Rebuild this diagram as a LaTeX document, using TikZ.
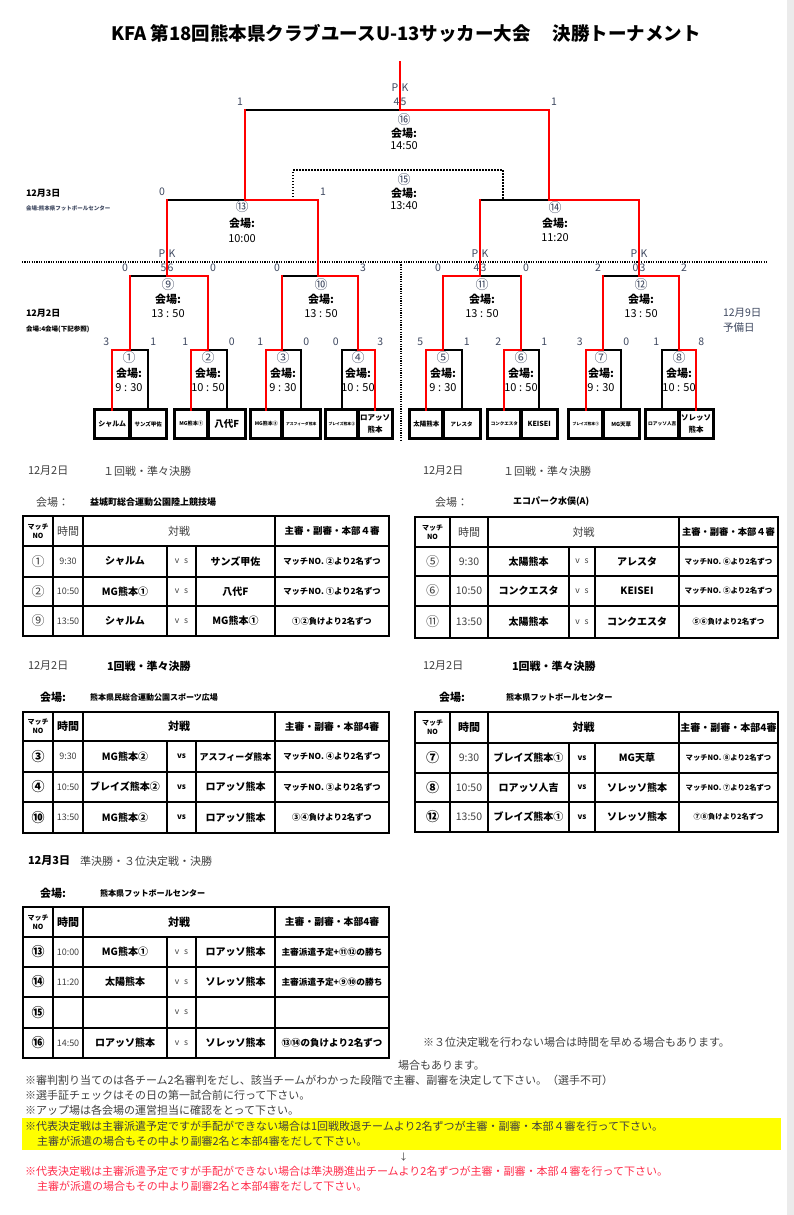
\documentclass[tikz,border=0pt]{standalone}
\usepackage{fontspec}
\setmainfont{Noto Sans CJK JP}
\usetikzlibrary{positioning}
\definecolor{scoreblue}{RGB}{62,72,96}
\definecolor{txtgray}{RGB}{64,64,64}
\definecolor{notered}{RGB}{255,45,75}
\definecolor{markyellow}{RGB}{255,255,0}

\begin{document}
\begin{tikzpicture}[x=1pt, y=-1pt,
  every node/.style={inner sep=0pt, outer sep=0pt},
  win/.style={draw=red, line width=2.2pt, line cap=rect},
  lose/.style={draw=black, line width=2.2pt, line cap=rect},
  third/.style={draw=black, line width=1.6pt, dash pattern=on 1.5pt off 1.5pt},
  divider/.style={draw=black, line width=1.2pt, dash pattern=on 1.2pt off 1.2pt},
  team/.style={draw, line width=3.4pt, minimum height=28.6pt, align=center},
  info/.style={align=center},
  score/.style={text=scoreblue, font=\fontsize{10.5}{12}\selectfont},
  side/.style={anchor=west, align=left},
  hd/.style={anchor=west, text=txtgray, font=\fontsize{11}{13}\selectfont},
  hdb/.style={anchor=west, font=\fontsize{11}{13}\selectfont\bfseries},
  venue/.style={anchor=west, font=\fontsize{#1}{10}\selectfont\bfseries},
  tbl/.style={line width=1.8pt},
  tno/.style={align=center, font=\fontsize{7}{9}\selectfont\bfseries},
  thb/.style={font=\fontsize{11}{12}\selectfont\bfseries},
  thl/.style={text=txtgray, font=\fontsize{11}{12}\selectfont},
  tref/.style={font=\fontsize{#1}{12}\selectfont\bfseries},
  cno/.style={text=txtgray, font=\fontsize{13}{14}\selectfont},
  cnob/.style={font=\fontsize{13}{14}\selectfont\bfseries},
  ctm/.style={text=txtgray, font=\fontsize{#1}{12}\selectfont},
  cteam/.style={font=\fontsize{10}{12}\selectfont\bfseries},
  cvs/.style={text=txtgray, font=\fontsize{8.5}{10}\selectfont},
  cvsb/.style={font=\fontsize{8}{10}\selectfont\bfseries},
  cref/.style={font=\fontsize{#1}{10}\selectfont\bfseries},
  note/.style={anchor=west, text=txtgray, font=\fontsize{11}{13}\selectfont}
]
\useasboundingbox (0,0) rectangle (794,1215);
\fill[white] (0,0) rectangle (794,1215);
\fill[black!8] (787,0) rectangle (794,1215);

% title
\node[font=\fontsize{18.5}{20}\selectfont\bfseries] (title) at (406,33)
  {KFA 第18回熊本県クラブユースU-13サッカー大会\hspace{1.2em}決勝トーナメント};

% match points (apex of each bracket)
\coordinate (m1) at (130,350);
\coordinate (m2) at (208,350);
\coordinate (m3) at (282,350);
\coordinate (m4) at (358,350);
\coordinate (m5) at (443,350);
\coordinate (m6) at (521,350);
\coordinate (m7) at (603,350);
\coordinate (m8) at (679,350);
\coordinate (m9) at (167,276);
\coordinate (m10) at (318,276);
\coordinate (m11) at (480,276);
\coordinate (m12) at (639,276);
\coordinate (m13) at (245,200);
\coordinate (m14) at (549,200);
\coordinate (m15) at (398,170);
\coordinate (m16) at (400,110);
\coordinate (top) at (400,62);
\coordinate (q1) at (293,200);
\coordinate (q2) at (503,200);

% day divider
\draw[divider] (22,262) -- (767,262);
\draw[divider] (401,262) -- (401,441);

% team boxes
\foreach \nm/\xa/\xb/\fs/\txt in {
  1a/94.6/130/7/シャルム, 1b/130/166.4/5.5/サンズ甲佐,
  2a/174.6/208/5.2/MG熊本①, 2b/208/245.4/9.5/八代F,
  3a/250.6/282/5/MG熊本②, 3b/282/320.4/3.8/アスフィーダ熊本,
  4a/325.6/358/3.8/ブレイズ熊本②, 4b/358/392.4/7.5/ロアッソ\\熊本,
  5a/409.6/443/6.5/太陽熊本, 5b/443/480.4/5.5/アレスタ,
  6a/487.6/521/4.5/コンクエスタ, 6b/521/557.4/7/KEISEI,
  7a/568.6/603/3.8/ブレイズ熊本①, 7b/603/639.4/5.5/MG天草,
  8a/645.6/679/4.7/ロアッソ人吉, 8b/679/713.4/7.5/ソレッソ\\熊本}
  \node[team, minimum width={\xb-\xa}, font=\fontsize{\fs}{11.5}\selectfont\bfseries]
    (c\nm) at ({(\xa+\xb)/2},424) {\txt};

% third place (dotted)
\draw[third] (q1) |- (m15) -| (q2);

% first round
\foreach \m/\wi/\lo in {1/a/b,2/a/b,3/a/b,4/b/a,5/a/b,6/a/b,7/a/b,8/b/a} {
  \draw[lose] (c\m\lo.north) |- (m\m);
  \draw[win] (c\m\wi.north) |- (m\m);
}
% later rounds
\foreach \m/\wi/\lo in {9/2/1,10/4/3,11/5/6,12/8/7,13/10/9,14/12/11,16/14/13} {
  \draw[lose] (m\lo |- m\m) -- (m\m);
  \draw[win] (m\lo) -- (m\lo |- m\m);
  \draw[win] (m\wi) |- (m\m);
}
\draw[win] (m16) -- (top);

% match info
\foreach \m/\nr/\tm/\dx/\ls in {1/①/9 : 30/-1/14.5, 2/②/10 : 50/0/14.5,
  3/③/9 : 30/1/14.5, 4/④/10 : 50/0/14.5, 5/⑤/9 : 30/0/14.5,
  6/⑥/10 : 50/0/14.5, 7/⑦/9 : 30/-2/14.5, 8/⑧/10 : 50/0/14.5,
  9/⑨/13 : 50/1/14, 10/⑩/13 : 50/3/14, 11/⑪/13 : 50/2/14,
  12/⑫/13 : 50/2/14, 13/⑬/10:00/-3/15.5, 14/⑭/11:20/6/14.5,
  15/⑮/13:40/6/12.5, 16/⑯/14:50/4/12.5}
  \node[info, xshift=\dx, yshift=-22pt, font=\fontsize{11}{\ls}\selectfont] (i\m) at (m\m)
    {{\color{scoreblue}\fontsize{13}{\ls}\selectfont\nr}\\{\bfseries 会場:}\\\tm};

% scores
\foreach \m/\sa/\sb in {1/3/1,2/1/0,3/1/0,4/0/3,5/5/1,6/2/1,7/3/0,8/1/8} {
  \path (c\m a.north |- m\m) node[score, xshift=-6pt, yshift=8pt] (sl\m) {\sa};
  \path (c\m b.north |- m\m) node[score, xshift=5pt, yshift=8pt] (sr\m) {\sb};
}
\foreach \m/\lo/\ri/\sa/\sb in {9/1/2/0/0,10/3/4/0/3,11/5/6/0/0,12/7/8/2/2,13/9/10/0/1,16/13/14/1/1} {
  \path (m\lo |- m\m) node[score, xshift=-5pt, yshift=8pt] (sl\m) {\sa};
  \path (m\ri |- m\m) node[score, xshift=5pt, yshift=8pt] (sr\m) {\sb};
}
\foreach \m/\sa/\sb in {9/5/6,11/4/3,12/0/3,16/4/5} {
  \node[score, yshift=22pt] (pk\m) at (m\m) {P\hspace{3.5pt}K};
  \node[score, xshift=-3.5pt, yshift=8pt] (pa\m) at (m\m) {\sa};
  \node[score, xshift=3.5pt, yshift=8pt] (pb\m) at (m\m) {\sb};
}

% day labels
\node[side, font=\fontsize{9}{10}\selectfont\bfseries] (day3) at (26,193) {12月3日};
\node[side, text=scoreblue, font=\fontsize{5.5}{7}\selectfont\bfseries] (day3v) at (26,208) {会場:熊本県フットボールセンター};
\node[side, font=\fontsize{9}{10}\selectfont\bfseries] (day2) at (26,313) {12月2日};
\node[side, font=\fontsize{6.5}{8}\selectfont\bfseries] (day2v) at (26,329) {会場:4会場(下記参照)};
\node[side, text=scoreblue, font=\fontsize{10.5}{15}\selectfont] (day9) at (723,320) {12月9日\\予備日};

% table 1
\node[hd] (ad) at (28,471) {12月2日};
\node[hd] (ar) at (103,471) {１回戦・準々決勝};
\node[hd] (av) at (36,502) {会場：};
\node[venue=9] (ap) at (90,502) {益城町総合運動公園陸上競技場};
\draw[tbl] (23,516) rectangle (389,636);
\foreach \yy in {546,577,606} \draw[tbl] (23,\yy) -- (389,\yy);
\foreach \xx in {53,83,275} \draw[tbl] (\xx,516) -- (\xx,636);
\foreach \xx in {167,196} \draw[tbl] (\xx,546) -- (\xx,636);
\node[tno] (ah1) at (38,531) {マッチ\\NO};
\node[thl] (ah2) at (68,531) {時間};
\node[thl] (ah3) at (179,531) {対戦};
\node[tref=9.5] (ah4) at (332,531) {主審・副審・本部４審};
\foreach \no/\tm/\ta/\tb/\rf/\yy [count=\k] in {
  ①/9:30/シャルム/サンズ甲佐/マッチNO. ②より2名ずつ/561.5,
  ②/10:50/MG熊本①/八代F/マッチNO. ①より2名ずつ/591.5,
  ⑨/13:50/シャルム/MG熊本①/①②負けより2名ずつ/621} {
  \node[cno] (an\k) at (38,\yy) {\no};
  \node[ctm=9] (at\k) at (68,\yy) {\tm};
  \node[cteam] (aa\k) at (125,\yy) {\ta};
  \node[cvs] (avs\k) at (181.5,\yy) {v\hspace{5pt}s};
  \node[cteam] (ab\k) at (235.5,\yy) {\tb};
  \node[cref=8.3] (arf\k) at (332,\yy) {\rf};
}

% table 2
\node[hd] (bd) at (423,471) {12月2日};
\node[hd] (br) at (503,471) {１回戦・準々決勝};
\node[hd] (bv) at (435,502) {会場：};
\node[venue=9] (bp) at (513,502) {エコパーク水俣(A)};
\draw[tbl] (415,517) rectangle (778,638);
\foreach \yy in {547,576,606} \draw[tbl] (415,\yy) -- (778,\yy);
\foreach \xx in {450,488,679} \draw[tbl] (\xx,517) -- (\xx,638);
\foreach \xx in {569,595} \draw[tbl] (\xx,547) -- (\xx,638);
\node[tno] (bh1) at (432.5,532) {マッチ\\NO};
\node[thl] (bh2) at (469,532) {時間};
\node[thl] (bh3) at (583.5,532) {対戦};
\node[tref=9.3] (bh4) at (728.5,532) {主審・副審・本部４審};
\foreach \no/\tm/\ta/\tb/\rf/\yy [count=\k] in {
  ⑤/9:30/太陽熊本/アレスタ/マッチNO. ⑥より2名ずつ/561.5,
  ⑥/10:50/コンクエスタ/KEISEI/マッチNO. ⑤より2名ずつ/591,
  ⑪/13:50/太陽熊本/コンクエスタ/⑤⑥負けより2名ずつ/622} {
  \node[cno] (bn\k) at (432.5,\yy) {\no};
  \node[ctm=10.5] (bt\k) at (469,\yy) {\tm};
  \node[cteam] (ba\k) at (528.5,\yy) {\ta};
  \node[cvs] (bvs\k) at (582,\yy) {v\hspace{5pt}s};
  \node[cteam] (bb\k) at (637,\yy) {\tb};
  \node[cref=7.5] (brf\k) at (728.5,\yy) {\rf};
}

% table 3
\node[hd] (cd) at (28,666) {12月2日};
\node[hdb] (cr) at (107,666) {1回戦・準々決勝};
\node[hdb] (cv) at (40,697) {会場:};
\node[venue=8] (cp) at (90,697) {熊本県民総合運動公園スポーツ広場};
\draw[tbl] (23,712) rectangle (389,833);
\foreach \yy in {741,772,802} \draw[tbl] (23,\yy) -- (389,\yy);
\foreach \xx in {53,83,275} \draw[tbl] (\xx,712) -- (\xx,833);
\foreach \xx in {167,196} \draw[tbl] (\xx,741) -- (\xx,833);
\node[tno] (ch1) at (38,726.5) {マッチ\\NO};
\node[thb] (ch2) at (68,726.5) {時間};
\node[thb] (ch3) at (179,726.5) {対戦};
\node[tref=9.8] (ch4) at (332,726.5) {主審・副審・本部4審};
\foreach \no/\tm/\ta/\tb/\rf/\yy [count=\k] in {
  ③/9:30/MG熊本②/{\fontsize{9}{10}\selectfont アスフィーダ熊本}/マッチNO. ④より2名ずつ/756.5,
  ④/10:50/ブレイズ熊本②/ロアッソ熊本/マッチNO. ③より2名ずつ/787,
  ⑩/13:50/MG熊本②/ロアッソ熊本/③④負けより2名ずつ/817.5} {
  \node[cnob] (cn\k) at (38,\yy) {\no};
  \node[ctm=9] (ct\k) at (68,\yy) {\tm};
  \node[cteam] (ca\k) at (125,\yy) {\ta};
  \node[cvsb] (cvs\k) at (181.5,\yy) {vs};
  \node[cteam] (cb\k) at (235.5,\yy) {\tb};
  \node[cref=8.3] (crf\k) at (332,\yy) {\rf};
}

% table 4
\node[hd] (dd) at (423,666) {12月2日};
\node[hdb] (dr) at (512,666) {1回戦・準々決勝};
\node[hdb] (dv) at (439,697) {会場:};
\node[venue=8.2] (dp) at (506,697) {熊本県フットボールセンター};
\draw[tbl] (415,712) rectangle (778,832);
\foreach \yy in {743,773,802} \draw[tbl] (415,\yy) -- (778,\yy);
\foreach \xx in {450,488,679} \draw[tbl] (\xx,712) -- (\xx,832);
\foreach \xx in {569,595} \draw[tbl] (\xx,743) -- (\xx,832);
\node[tno] (dh1) at (432.5,727.5) {マッチ\\NO};
\node[thb] (dh2) at (469,727.5) {時間};
\node[thb] (dh3) at (583.5,727.5) {対戦};
\node[tref=10] (dh4) at (728.5,727.5) {主審・副審・本部4審};
\foreach \no/\tm/\ta/\tb/\rf/\yy [count=\k] in {
  ⑦/9:30/ブレイズ熊本①/MG天草/マッチNO. ⑧より2名ずつ/758,
  ⑧/10:50/ロアッソ人吉/ソレッソ熊本/マッチNO. ⑦より2名ずつ/787.5,
  ⑫/13:50/ブレイズ熊本①/ソレッソ熊本/⑦⑧負けより2名ずつ/817} {
  \node[cnob] (dn\k) at (432.5,\yy) {\no};
  \node[ctm=10.5] (dt\k) at (469,\yy) {\tm};
  \node[cteam] (da\k) at (528.5,\yy) {\ta};
  \node[cvsb] (dvs\k) at (582,\yy) {vs};
  \node[cteam] (db\k) at (637,\yy) {\tb};
  \node[cref=7.3] (drf\k) at (728.5,\yy) {\rf};
}

% table 5
\node[hdb] (ed) at (28,861) {12月3日};
\node[hd] (er) at (80,861) {準決勝・３位決定戦・決勝};
\node[hdb] (ev) at (40,893) {会場:};
\node[venue=8.1] (ep) at (100,893) {熊本県フットボールセンター};
\draw[tbl] (23,907) rectangle (389,1058);
\foreach \yy in {937,967,997,1028} \draw[tbl] (23,\yy) -- (389,\yy);
\foreach \xx in {53,83,275} \draw[tbl] (\xx,907) -- (\xx,1058);
\foreach \xx in {167,196} \draw[tbl] (\xx,937) -- (\xx,1058);
\node[tno] (eh1) at (38,922) {マッチ\\NO};
\node[thb] (eh2) at (68,922) {時間};
\node[thb] (eh3) at (179,922) {対戦};
\node[tref=9.8] (eh4) at (332,922) {主審・副審・本部4審};
\foreach \no/\tm/\ta/\tb/\rf/\yy [count=\k] in {
  ⑬/10:00/MG熊本①/ロアッソ熊本/主審派遣予定+⑪⑫の勝ち/952,
  ⑭/11:20/太陽熊本/ソレッソ熊本/主審派遣予定+⑨⑩の勝ち/982,
  ⑮/{}/{}/{}/{}/1012.5,
  ⑯/14:50/ロアッソ熊本/ソレッソ熊本/{\fontsize{9.5}{10}\selectfont ⑬⑭の負けより2名ずつ}/1043} {
  \node[cnob] (en\k) at (38,\yy) {\no};
  \node[ctm=9] (et\k) at (68,\yy) {\tm};
  \node[cteam] (ea\k) at (125,\yy) {\ta};
  \node[cvs] (evs\k) at (181.5,\yy) {v\hspace{5pt}s};
  \node[cteam] (eb\k) at (235.5,\yy) {\tb};
  \node[cref=8.7] (erf\k) at (332,\yy) {\rf};
}

% notes
\node[note] (n0) at (423,1042) {※３位決定戦を行わない場合は時間を早める場合もあります。};
\node[note] (n1) at (398,1065) {場合もあります。};
\node[note] (n2) at (25,1080) {※審判割り当てのは各チーム2名審判をだし、該当チームがわかった段階で主審、副審を決定して下さい。（選手不可）};
\node[note] (n3) at (25,1095) {※選手証チェックはその日の第一試合前に行って下さい。};
\node[note] (n4) at (25,1110) {※アップ場は各会場の運営担当に確認をとって下さい。};
\fill[markyellow] (22,1118) rectangle (781,1150);
\node[note] (n5) at (25,1126) {※代表決定戦は主審派遣予定ですが手配ができない場合は1回戦敗退チームより2名ずつが主審・副審・本部４審を行って下さい。};
\node[note] (n6) at (37,1141) {主審が派遣の場合もその中より副審2名と本部4審をだして下さい。};
\node[note, font=\fontsize{9}{10}\selectfont] (n7) at (399,1157) {↓};
\node[note, text=notered] (n8) at (25,1171) {※代表決定戦は主審派遣予定ですが手配ができない場合は準決勝進出チームより2名ずつが主審・副審・本部４審を行って下さい。};
\node[note, text=notered] (n9) at (37,1186) {主審が派遣の場合もその中より副審2名と本部4審をだして下さい。};
\end{tikzpicture}
\end{document}
